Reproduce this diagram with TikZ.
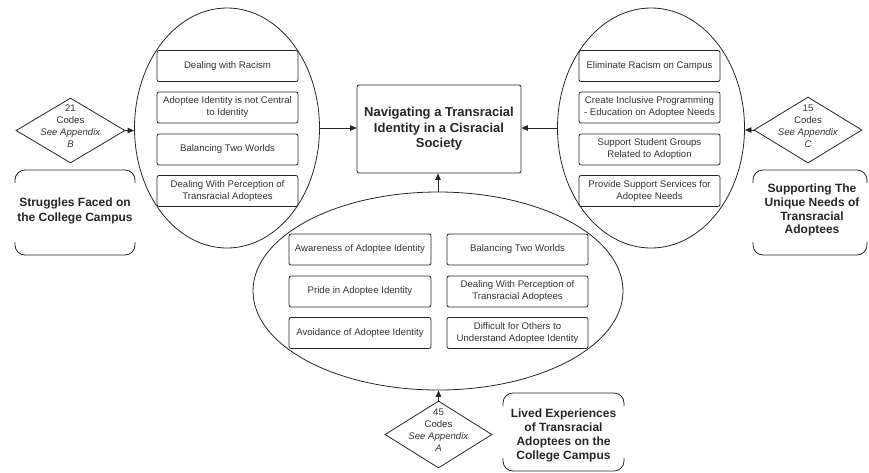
\documentclass[tikz,border=0pt]{standalone}
\usepackage{fontspec}
\setmainfont{Liberation Sans}
\usetikzlibrary{shapes.geometric,arrows.meta}
\begin{document}
\begin{tikzpicture}[x=1pt,y=-1pt,
  ink/.style={draw=black!85, line width=0.8pt},
  oval/.style={ellipse, ink, inner sep=0pt},
  itembox/.style={ink, rounded corners=2pt, minimum width=141pt, minimum height=31pt,
    align=center, inner sep=1pt, text=black!80, font=\fontsize{9.6}{12}\selectfont},
  dia/.style={diamond, ink, minimum width=108pt, minimum height=66pt, inner sep=0pt},
  diatext/.style={align=center, text=black!80, font=\fontsize{9.6}{12}\selectfont},
  headtext/.style={align=center, text=black!85, font=\bfseries\fontsize{12}{13.8}\selectfont},
  bracketline/.style={ink, rounded corners=10pt},
  arr/.style={draw=black!85, line width=0.8pt, -{Triangle[length=6.5pt,width=5.5pt]}}
]
\useasboundingbox (0,0) rectangle (869,472);

% central box
\node[ink, rounded corners=2pt, minimum width=164pt, minimum height=88pt, align=center,
  text=black!85, font=\bfseries\fontsize{13}{15.5}\selectfont] (cb) at (439,129)
  {Navigating a Transracial\\Identity in a Cisracial\\Society};

% ellipses
\node[oval, minimum width=185pt, minimum height=240pt] (le) at (227,128) {};
\node[oval, minimum width=187pt, minimum height=240pt] (re) at (651,128) {};
\node[oval, minimum width=370pt, minimum height=198pt] (be) at (438,291) {};

% left items
\node[itembox] (l1) at (227.5,66) {Dealing with Racism};
\node[itembox] (l2) at (227.5,107.5) {Adoptee Identity is not Central\\to Identity};
\node[itembox] (l3) at (227.5,149.5) {Balancing Two Worlds};
\node[itembox] (l4) at (227.5,191) {Dealing With Perception of\\Transracial Adoptees};

% right items
\node[itembox] (r1) at (649.5,66) {Eliminate Racism on Campus};
\node[itembox] (r2) at (649.5,107.5) {Create Inclusive Programming\\- Education on Adoptee Needs};
\node[itembox] (r3) at (649.5,149.5) {Support Student Groups\\Related to Adoption};
\node[itembox] (r4) at (649.5,191) {Provide Support Services for\\Adoptee Needs};

% bottom items
\node[itembox, minimum width=142pt] (b1) at (360,249.5) {Awareness of Adoptee Identity};
\node[itembox, minimum width=142pt] (b2) at (360,291.5) {Pride in Adoptee Identity};
\node[itembox, minimum width=142pt] (b3) at (360,333) {Avoidance of Adoptee Identity};
\node[itembox] (b4) at (517.5,249.5) {Balancing Two Worlds};
\node[itembox] (b5) at (517.5,291.5) {Dealing With Perception of\\Transracial Adoptees};
\node[itembox] (b6) at (517.5,333) {Difficult for Others to\\Understand Adoptee Identity};

% diamonds
\node[dia, minimum width=109pt, minimum height=65pt] (ld) at (70.5,130.5) {};
\node[diatext] (ldt) at ([yshift=4pt]ld.center) {21\\Codes\\\textit{See Appendix}\\\textit{B}};
\node[dia] (rd) at (808,130) {};
\node[diatext] (rdt) at ([yshift=4pt]rd.center) {15\\Codes\\\textit{See Appendix}\\\textit{C}};
\node[dia, minimum width=107pt, minimum height=67pt] (bd) at (438.5,434.5) {};
\node[diatext] (bdt) at ([yshift=4pt]bd.center) {45\\Codes\\\textit{See Appendix}\\\textit{A}};

% bracket labels
\draw[bracketline] (15,183) -- (15,170) -- (135,170) -- (135,183);
\draw[bracketline] (15,242) -- (15,255) -- (135,255) -- (135,242);
\node[headtext, font=\bfseries\fontsize{12}{14.6}\selectfont] (lt) at (75,211) {Struggles Faced on\\the College Campus};

\draw[bracketline] (753,183) -- (753,170) -- (867,170) -- (867,183);
\draw[bracketline] (753,242) -- (753,255) -- (867,255) -- (867,242);
\node[headtext] (rt) at (812,210) {Supporting The\\Unique Needs of\\Transracial\\Adoptees};

\draw[bracketline] (503,406) -- (503,393) -- (624,393) -- (624,406);
\draw[bracketline] (503,458) -- (503,471) -- (624,471) -- (624,458);
\node[headtext] (bt) at (563.5,435.5) {Lived Experiences\\of Transracial\\Adoptees on the\\College Campus};

% arrows
\draw[arr] (ld.east) -- (ld.east -| le.west);
\draw[arr] (rd.west) -- (rd.west -| re.east);
\draw[arr] (bd.north) -- (bd.north |- be.south);
\draw[arr] (le.east) -- (le.east -| cb.west);
\draw[arr] (re.west) -- (re.west -| cb.east);
\draw[arr] (be.north) -- (be.north |- cb.south);
\end{tikzpicture}
\end{document}
